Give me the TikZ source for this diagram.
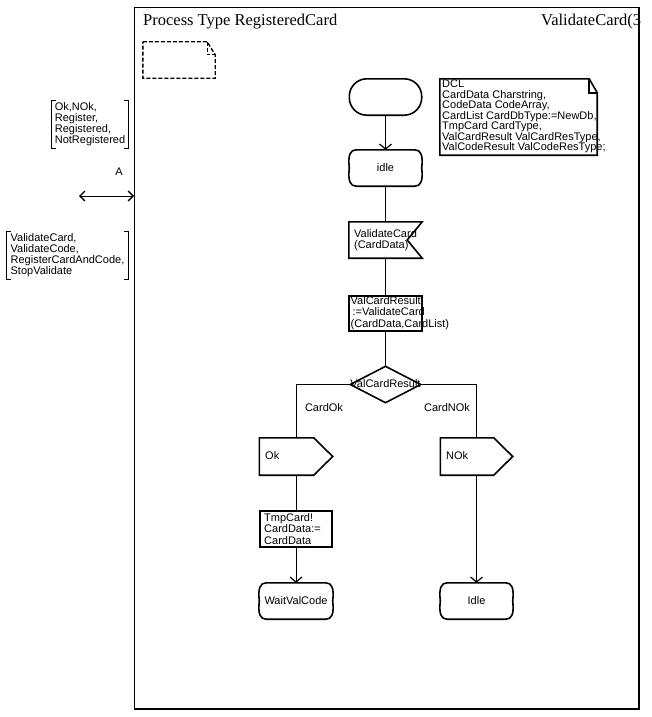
\documentclass[tikz,border=0pt]{standalone}
\usepackage{fontspec}
\setmainfont{Liberation Sans}
\newfontfamily\titlefont{Liberation Serif}
\usetikzlibrary{arrows.meta,calc}
\newcommand\stateoutline[1]{%
 \draw[outline] ($(#1.north west)+(7,0)$) -- ($(#1.north east)+(-7,0)$)
  .. controls ($(#1.north east)+(-1,0)$) and ($(#1.north east)+(1.5,5)$) .. (#1.east)
  .. controls ($(#1.south east)+(1.5,-5)$) and ($(#1.south east)+(-1,0)$) .. ($(#1.south east)+(-7,0)$)
  -- ($(#1.south west)+(7,0)$)
  .. controls ($(#1.south west)+(1,0)$) and ($(#1.south west)+(-1.5,-5)$) .. (#1.west)
  .. controls ($(#1.north west)+(-1.5,5)$) and ($(#1.north west)+(1,0)$) .. cycle;}
\begin{document}
\begin{tikzpicture}[x=1pt,y=-1pt,
  lbl/.style={font=\fontsize{11}{11}\selectfont, inner sep=0pt},
  ml/.style={lbl, align=left, anchor=north west},
  shp/.style={lbl, draw=none, align=left},
  outline/.style={line width=1.6pt, line join=miter},
  conn/.style={line width=1pt},
  barb/.style={-{Straight Barb[length=5pt,width=12pt,line width=1.2pt]}},
  arr/.style={conn, barb},
  bracket/.style={line width=1.3pt},
]
\useasboundingbox (0,0) rectangle (651,717);
% frame
\draw[line width=1pt] (134,8) rectangle (639,709);
\draw[line width=2pt] (639,8) -- (639,709) -- (134,709);
\node[anchor=base west, inner sep=0pt, font=\titlefont\fontsize{16.5}{16.5}\selectfont] (title) at (143,25.5) {Process Type RegisteredCard};
\node[anchor=base west, inner sep=0pt, font=\titlefont\fontsize{16.5}{16.5}\selectfont] (pagenum) at (541,25.5) {ValidateCard(3};
% dashed comment box
\node[shp, minimum width=72pt, minimum height=36pt] (dash) at (179,60) {};
\draw[line width=1.4pt, dash pattern=on 4pt off 2pt] (dash.north west) -- ($(dash.north east)+(-8,0)$) -- ($(dash.north east)+(0,13)$) -- (dash.south east) -- (dash.south west) -- cycle;
\draw[line width=1.4pt, dash pattern=on 4pt off 2pt] ($(dash.north east)+(-8,0)$) -- ($(dash.north east)+(-8,13)$) -- ($(dash.north east)+(0,13)$);
% DCL
\node[shp, minimum width=157pt, minimum height=76pt] (dcl) at (518.5,117) {};
\draw[outline] (dcl.north west) -- ($(dcl.north east)+(-8,0)$) -- ($(dcl.north east)+(0,14)$) -- (dcl.south east) -- (dcl.south west) -- cycle;
\draw[outline] ($(dcl.north east)+(-8,0)$) -- ($(dcl.north east)+(-8,14)$) -- ($(dcl.north east)+(0,14)$);
\node[ml, font=\fontsize{11}{10.5}\selectfont] (dcltext) at (442,80) {DCL\\CardData Charstring,\\CodeData CodeArray,\\CardList CardDbType:=NewDb,\\TmpCard CardType,\\ValCardResult ValCardResType,\\ValCodeResult ValCodeResType;};
% signal lists
\node[shp, minimum width=76pt, minimum height=47pt] (sig1) at (90,124.5) {Ok,NOk,\\Register,\\Registered,\\NotRegistered};
\draw[bracket] ($(sig1.north west)+(4,0)$) -- (sig1.north west) -- (sig1.south west) -- ($(sig1.south west)+(4,0)$);
\draw[bracket] ($(sig1.north east)+(-4,0)$) -- (sig1.north east) -- (sig1.south east) -- ($(sig1.south east)+(-4,0)$);
\node[shp, minimum width=121pt, minimum height=47pt] (sig2) at (67.5,255.5) {ValidateCard,\\ValidateCode,\\RegisterCardAndCode,\\StopValidate};
\draw[bracket] ($(sig2.north west)+(4,0)$) -- (sig2.north west) -- (sig2.south west) -- ($(sig2.south west)+(4,0)$);
\draw[bracket] ($(sig2.north east)+(-4,0)$) -- (sig2.north east) -- (sig2.south east) -- ($(sig2.south east)+(-4,0)$);
% channel
\coordinate (chL) at (79,196);
\coordinate (chR) at (134,196);
\draw[conn, {Straight Barb[length=5pt,width=10pt,line width=1.3pt]}-{Straight Barb[length=5pt,width=10pt,line width=1.3pt]}] (chL) -- (chR);
\node[lbl] (chname) at (119,172) {A};
% start
\node[shp, minimum width=72pt, minimum height=36pt] (start) at (385.5,97) {};
\draw[outline, rounded corners=17.5pt] (start.north west) rectangle (start.south east);
% idle state
\node[shp, minimum width=72pt, minimum height=36pt] (idle) at (385.5,168) {idle};
\stateoutline{idle}
% input
\node[shp, minimum width=73pt, minimum height=36pt] (inp) at (385.5,240) {ValidateCard\\(CardData)};
\draw[outline] (inp.north west) -- (inp.north east) -- ($(inp.east)+(-15,0)$) -- (inp.south east) -- (inp.south west) -- cycle;
% task 1
\node[shp, minimum width=73pt, minimum height=35pt] (task1) at (385.5,313.5) {};
\draw[outline] (task1.north west) rectangle (task1.south east);
\node[ml, font=\fontsize{11}{11.5}\selectfont] (task1text) at (350.5,296) {ValCardResult\\\,:=ValidateCard\\(CardData,CardList)};
% decision
\node[shp, minimum width=70pt, minimum height=36pt] (dec) at (385.5,384.5) {};
\draw[outline] (dec.north) -- (dec.east) -- (dec.south) -- (dec.west) -- cycle;
\node[lbl] (dectext) at (385.5,384) {ValCardResult};
% outputs
\node[shp, minimum width=73pt, minimum height=37pt] (okout) at (296,456.5) {};
\draw[outline] (okout.north west) -- ($(okout.north east)+(-19,0)$) -- (okout.east) -- ($(okout.south east)+(-19,0)$) -- (okout.south west) -- cycle;
\node[lbl, anchor=west] (oktext) at (265,456) {Ok};
\node[shp, minimum width=72pt, minimum height=37pt] (nokout) at (476.5,456.5) {};
\draw[outline] (nokout.north west) -- ($(nokout.north east)+(-19,0)$) -- (nokout.east) -- ($(nokout.south east)+(-19,0)$) -- (nokout.south west) -- cycle;
\node[lbl, anchor=west] (noktext) at (446,456) {NOk};
% task 2
\node[shp, minimum width=72pt, minimum height=36pt] (task2) at (296,529) {};
\draw[outline] (task2.north west) rectangle (task2.south east);
\node[ml, font=\fontsize{11}{11.5}\selectfont] (task2text) at (264,513) {TmpCard!\\CardData:=\\CardData};
% end states
\node[shp, minimum width=73pt, minimum height=36pt] (wait) at (296,601) {WaitValCode};
\stateoutline{wait}
\node[shp, minimum width=72pt, minimum height=36pt] (idle2) at (476.5,601) {Idle};
\stateoutline{idle2}
% connectors
\draw[arr] (start.south) -- (idle.north);
\draw[conn] (idle.south) -- (inp.north);
\draw[conn] (inp.south) -- (task1.north);
\draw[conn] (task1.south) -- (dec.north);
\draw[conn] (dec.west) -| (okout.north);
\draw[conn] (dec.east) -| (nokout.north);
\draw[conn] (okout.south) -- (task2.north);
\draw[arr] (task2.south) -- (wait.north);
\draw[arr] (nokout.south) -- (idle2.north);
\node[lbl] (cardok) at (324,408) {CardOk};
\node[lbl] (cardnok) at (447,408) {CardNOk};
\end{tikzpicture}
\end{document}
